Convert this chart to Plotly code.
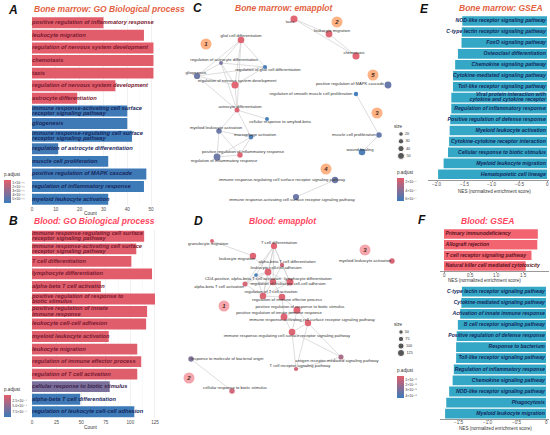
import plotly.graph_objects as go

W, H = 550, 435

# ======================= DATA =======================
# ---- A: Bone marrow, GO Biological process ----
a_terms = [
    "positive regulation of inflammatory response",
    "leukocyte migration",
    "regulation of nervous system development",
    "chemotaxis",
    "taxis",
    "regulation of nervous system development",
    "astrocyte differentiation",
    "immune response-activating cell surface<br>receptor signaling pathway",
    "gliogenesis",
    "immune response-regulating cell surface<br>receptor signaling pathway",
    "regulation of astrocyte differentiation",
    "muscle cell proliferation",
    "positive regulation of MAPK cascade",
    "regulation of inflammatory response",
    "myeloid leukocyte activation",
]
a_count = [30, 47, 51, 51, 51, 35, 19, 40, 40, 42, 11, 32, 48, 47, 32]
a_padj = [2.6e-12, 2.8e-12, 2.5e-12, 2.7e-12, 2.7e-12, 3.0e-12, 3.2e-12,
          5.9e-11, 5.9e-11, 5.95e-11, 5.8e-11, 6.0e-11, 5.9e-11, 5.95e-11, 6.0e-11]
a_padj_lim = [2.4e-12, 6.06e-11]
a_padj_ticks = [1e-11, 2e-11, 3e-11, 4e-11, 5e-11]
a_padj_ticktext = ["1×10⁻¹¹", "2×10⁻¹¹", "3×10⁻¹¹", "4×10⁻¹¹", "5×10⁻¹¹"]
a_count_ticks = [0, 10, 20, 30, 40, 50]

# ---- B: Blood, GO Biological process ----
b_terms = [
    "immune response-regulating cell surface<br>receptor signaling pathway",
    "immune response-activating cell surface<br>receptor signaling pathway",
    "T cell differentiation",
    "lymphocyte differentiation",
    "alpha-beta T cell activation",
    "positive regulation of response to<br>biotic stimulus",
    "positive regulation of innate<br>immune response",
    "leukocyte cell-cell adhesion",
    "myeloid leukocyte activation",
    "leukocyte migration",
    "regulation of immune effector process",
    "regulation of T cell activation",
    "cellular response to biotic stimulus",
    "alpha-beta T cell differentiation",
    "regulation of leukocyte cell-cell adhesion",
]
b_count = [114, 106, 101, 122, 70, 125, 117, 116, 78, 107, 111, 107, 79, 49, 104]
b_padj = [0.3e-4, 0.35e-4, 0.3e-4, 0.25e-4, 0.4e-4, 0.3e-4, 0.35e-4, 0.35e-4,
          0.45e-4, 0.4e-4, 0.4e-4, 0.45e-4, 6.0e-4, 9.3e-4, 9.5e-4]
b_padj_lim = [0.2e-4, 9.6e-4]
b_padj_ticks = [2.5e-4, 5.0e-4, 7.5e-4]
b_padj_ticktext = ["2.5×10⁻⁴", "5.0×10⁻⁴", "7.5×10⁻⁴"]
b_count_ticks = [0, 25, 50, 75, 100, 125]

# ---- E: Bone marrow GSEA ----
e_terms = [
    "NOD-like receptor signaling pathway",
    "C-type lectin receptor signaling pathway",
    "FoxO signaling pathway",
    "Osteoclast differentiation",
    "Chemokine signaling pathway",
    "Cytokine-mediated signaling pathway",
    "Toll-like receptor signaling pathway",
    "Viral protein interaction with<br>cytokine and cytokine receptor",
    "Regulation of inflammatory response",
    "Positive regulation of defense response",
    "Myeloid leukocyte activation",
    "Cytokine-cytokine receptor interaction",
    "Cellular response to biotic stimulus",
    "Myeloid leukocyte migration",
    "Hematopoietic cell lineage",
]
e_nes = [-1.54, -1.55, -1.555, -1.62, -1.67, -1.71, -1.71, -1.74, -1.74,
         -1.76, -1.77, -1.78, -1.80, -1.88, -1.98]
e_ticks = [-2.0, -1.5, -1.0, -0.5, 0]
e_ticktext = ["−2.0", "−1.5", "−1.0", "−0.5", "0"]

# ---- F: Blood GSEA ----
f_up_terms = [
    "Primary immunodeficiency",
    "Allograft rejection",
    "T cell receptor signaling pathway",
    "Natural killer cell mediated cytotoxicity",
]
f_up_nes = [1.78, 1.77, 1.66, 1.55]
f_up_ticks = [0, 0.5, 1.0, 1.5]
f_up_ticktext = ["0", "0.5", "1.0", "1.5"]
f_dn_terms = [
    "C-type lectin receptor signaling pathway",
    "Cytokine-mediated signaling pathway",
    "Activation of innate immune response",
    "B cell receptor signaling pathway",
    "Positive regulation of defense response",
    "Response to bacterium",
    "Toll-like receptor signaling pathway",
    "Regulation of inflammatory response",
    "Chemokine signaling pathway",
    "NOD-like receptor signaling pathway",
    "Phagocytosis",
    "Myeloid leukocyte migration",
]
f_dn_nes = [-1.45, -1.46, -1.48, -1.52, -1.54, -1.55, -1.55, -1.59, -1.61,
            -1.67, -1.72, -1.74]
f_dn_ticks = [-1.5, -1.0, -0.5, 0]
f_dn_ticktext = ["−1.5", "−1.0", "−0.5", "0"]

# ---- C: Bone marrow emapplot (network) ----
c_terms = [
    "glial cell differentiation",
    "regulation of astrocyte differentiation",
    "regulation of glial cell differentiation",
    "gliogenesis",
    "regulation of nervous system development",
    "astrocyte differentiation",
    "cellular response to amyloid-beta",
    "myeloid leukocyte activation",
    "macrophage activation",
    "positive regulation of inflammatory response",
    "regulation of inflammatory response",
    "immune response-regulating cell surface receptor signaling pathway",
    "immune response-activating cell surface receptor signaling pathway",
    "taxis",
    "leukocyte migration",
    "chemotaxis",
    "positive regulation of MAPK cascade",
    "regulation of smooth muscle cell proliferation",
    "muscle cell proliferation",
    "wound healing",
]
c_count = [45, 11, 15, 40, 51, 25, 12, 32, 22, 30, 47, 42, 40, 51, 47, 51, 48, 18, 32, 45]
c_padj = [1.2e-7, 4.6e-7, 6.3e-7, 5.0e-7, 1.1e-7, 1.3e-7, 6.4e-7, 5.0e-7, 6.2e-7, 1.2e-7,
          5.0e-7, 5.0e-7, 5.1e-7, 1.1e-7, 1.2e-7, 1.1e-7, 5.2e-7, 6.4e-7, 5.3e-7, 6.1e-7]
c_padj_lim = [1.0e-7, 6.5e-7]
c_padj_ticks = [2e-7, 4e-7, 6e-7]
c_padj_ticktext = ["2×10⁻⁷", "4×10⁻⁷", "6×10⁻⁷"]
c_edges = [(0, 1), (0, 2), (0, 3), (0, 4), (0, 5), (1, 2), (1, 3), (1, 4), (1, 5),
           (2, 3), (2, 4), (3, 4), (3, 5), (4, 5), (5, 6), (5, 7), (5, 8),
           (7, 8), (7, 9), (7, 10), (8, 9), (8, 10), (9, 10),
           (13, 14), (13, 15), (14, 15), (17, 18), (18, 19), (11, 12)]
c_size_breaks = [20, 30, 40, 50]
c_clusters = ["1", "2", "5", "3", "4"]
# graph layout coordinates (panel units)
c_lay_x = [81, 61, 105, 37, 75, 77, 107, 59, 91, 80, 57, 175, 136, 134, 169, 196, 228, 196, 219, 202]
c_lay_y = [25, 48, 52, 61, 70, 95, 104, 116, 122, 140, 142, 165, 182, 4, 19, 41, 70, 79, 120, 137]
c_lab_dx = [0, 3, 3, -1, 2, 3, 13, -3, 4, 3, 7, -53, -4, -4, 3, -2, -38, -45, -25, -2]
c_lab_dy = [-4, -3, 3, -3, -4, -3, 3, -3, -2, -3, 4, 0, 3, 3, -3, -3, -1, 0, 0, -2]
c_cl_x = [46, 177, 213, 217, 166]
c_cl_y = [29, 7, 60, 98, 154]

# ---- D: Blood emapplot (network) ----
d_terms = [
    "granulocyte migration",
    "leukocyte migration",
    "T cell differentiation",
    "alpha-beta T cell differentiation",
    "leukocyte cell-cell adhesion",
    "CD4-positive, alpha-beta T cell activation",
    "lymphocyte differentiation",
    "regulation of leukocyte cell-cell adhesion",
    "alpha-beta T cell activation",
    "regulation of T cell activation",
    "regulation of immune effector process",
    "positive regulation of response to biotic stimulus",
    "positive regulation of innate immune response",
    "immune response-activating cell surface receptor signaling pathway",
    "immune response-regulating cell surface receptor signaling pathway",
    "antigen receptor-mediated signaling pathway",
    "T cell receptor signaling pathway",
    "myeloid leukocyte activation",
    "response to molecule of bacterial origin",
    "cellular response to biotic stimulus",
]
d_count = [35, 107, 101, 49, 116, 30, 122, 104, 70, 107, 111, 125, 117, 106, 114, 70, 45, 78, 78, 79]
d_padj = [0.6e-8, 0.5e-8, 0.4e-8, 0.9e-8, 0.5e-8, 4.4e-8, 0.4e-8, 0.6e-8, 0.7e-8, 0.5e-8,
          0.5e-8, 0.45e-8, 0.5e-8, 0.5e-8, 0.5e-8, 1.8e-8, 0.8e-8, 0.6e-8, 2.9e-8, 0.9e-8]
d_padj_lim = [0.35e-8, 4.52e-8]
d_padj_ticks = [1e-8, 2e-8, 3e-8, 4e-8]
d_padj_ticktext = ["1×10⁻⁸", "2×10⁻⁸", "3×10⁻⁸", "4×10⁻⁸"]
d_edges = [(2, 3), (2, 4), (2, 6), (2, 7), (2, 9), (2, 8), (2, 5), (3, 4), (3, 6), (3, 7),
           (4, 5), (4, 6), (4, 7), (4, 8), (4, 9), (4, 1), (5, 7), (5, 8), (5, 9),
           (6, 7), (6, 9), (7, 8), (7, 9), (7, 10), (8, 9), (9, 10), (10, 11), (10, 12),
           (11, 12), (11, 13), (12, 13), (12, 14), (13, 14), (11, 14), (13, 15), (14, 15),
           (13, 16), (14, 16), (15, 16), (1, 0), (18, 19)]
d_size_breaks = [50, 75, 100, 125]
d_clusters = ["1", "2", "3"]
d_lay_x = [52, 93, 114, 122, 108, 96, 130, 113, 85, 103, 122, 137, 124, 148, 132, 181, 136, 232, 31, 72]
d_lay_y = [13, 28, 18, 37, 44, 47, 54, 54, 56, 68, 69, 82, 89, 95, 104, 129, 141, 33, 131, 163]
d_lab_dx = [-4, -16, 5, 5, 8, -13, 18, 15, -26, 8, 5, 3, -5, 4, -5, -4, 4, -27, 36, 3]
d_lab_dy = [3, 3, -3, -3, -4, 4, -3, 2, 3, -4, 3, -3, -4, -3, 4, 4, -3, 0, 0, -3]
d_cl_x = [64, 29, 205]
d_cl_y = [78, 150, 22]

# ======================= STYLE =======================
RED, BLUE = "#E35D6A", "#3A7BB9"
DARK_RED, DARK_BLUE = "#7A1A30", "#14285E"
TEAL = "#33A7C5"
PINK = "#F2646F"
TITLE_BM, TITLE_BL = "#E2623F", "#FF4560"
LBL_FONT = "Liberation Sans, Arial, sans-serif"
TXT_FONT = "Liberation Sans, DejaVu Sans, Arial, sans-serif"
PSCALE = [[0, BLUE], [1, RED]]   # applied to -p.adjust so low p is red (top)


def xd(p0, p1):
    return [p0 / W, p1 / W]


def yd(p0, p1):
    return [1 - p1 / H, 1 - p0 / H]


def hex2rgb(h):
    h = h.lstrip("#")
    return [int(h[i:i + 2], 16) for i in (0, 2, 4)]


def lerp(c0, c1, t):
    a, b = hex2rgb(c0), hex2rgb(c1)
    t = max(0.0, min(1.0, t))
    return "rgb(%d,%d,%d)" % tuple(round(a[i] + (b[i] - a[i]) * t) for i in range(3))


def norm(p, lim):
    return (p - lim[0]) / (lim[1] - lim[0])


def cbar(px_x, py_top, py_bot, ticks, ticktext):
    return dict(x=px_x / W, xanchor="left", y=1 - (py_top + py_bot) / 2 / H, yanchor="middle",
                len=py_bot - py_top, lenmode="pixels", thickness=7, thicknessmode="pixels",
                xpad=0, ypad=0, outlinewidth=0, ticks="",
                tickvals=[-v for v in ticks], ticktext=ticktext,
                tickfont=dict(size=3.6, color="#333", family=TXT_FONT),
                title=dict(text="p.adjust", side="top", font=dict(size=4.6, color="#333", family=TXT_FONT)))


def text_lines(terms, x0, gap):
    xs, ys, ts, idx = [], [], [], []
    for i, t in enumerate(terms):
        lines = t.split("<br>")
        n = len(lines)
        for j, ln in enumerate(lines):
            xs.append(x0)
            ys.append(i + (j - (n - 1) / 2) * gap)
            ts.append(ln)
            idx.append(i)
    return xs, ys, ts, idx


fig = go.Figure()


# ---------- bar panels A & B ----------
def go_bar_panel(terms, counts, padj, lim, ticks, ticktext, ax, lbl_size, gap, cb_px):
    xa, ya = "x" + ax, "y" + ax
    fig.add_trace(go.Bar(
        x=counts, y=list(range(len(terms))), orientation="h", width=0.87,
        marker=dict(color=[-p for p in padj], colorscale=PSCALE, cmin=-lim[1], cmax=-lim[0],
                    line=dict(width=0), showscale=True,
                    colorbar=cbar(4, cb_px[0], cb_px[1], ticks, ticktext)),
        xaxis=xa, yaxis=ya, hoverinfo="skip"))
    xs, ys, ts, idx = text_lines(terms, 0, gap)
    cols = [lerp(DARK_RED, DARK_BLUE, norm(padj[i], lim)) for i in idx]
    fig.add_trace(go.Scatter(
        x=xs, y=ys, text=ts, mode="text", textposition="middle right",
        textfont=dict(family=LBL_FONT, size=lbl_size, color=cols, weight="bold", style="italic"),
        cliponaxis=False, hoverinfo="skip", xaxis=xa, yaxis=ya))


go_bar_panel(a_terms, a_count, a_padj, a_padj_lim, a_padj_ticks, a_padj_ticktext, "1", 5.7, 0.42, (170, 203))
go_bar_panel(b_terms, b_count, b_padj, b_padj_lim, b_padj_ticks, b_padj_ticktext, "2", 5.7, 0.42, (385, 417))


# ---------- GSEA panels ----------
def gsea_panel(terms, nes, color, ax, side, lbl_size, gap, txtcol):
    xa, ya = "x" + ax, "y" + ax
    fig.add_trace(go.Bar(x=nes, y=list(range(len(terms))), orientation="h", width=0.88,
                         marker=dict(color=color, line=dict(width=0)),
                         xaxis=xa, yaxis=ya, hoverinfo="skip"))
    x0 = -0.02 if side == "left" else 0.03
    xs, ys, ts, idx = text_lines(terms, x0, gap)
    fig.add_trace(go.Scatter(
        x=xs, y=ys, text=ts, mode="text",
        textposition="middle left" if side == "left" else "middle right",
        textfont=dict(family=LBL_FONT, size=lbl_size, color=txtcol, weight="bold", style="italic"),
        cliponaxis=False, hoverinfo="skip", xaxis=xa, yaxis=ya))


gsea_panel(e_terms, e_nes, TEAL, "5", "left", 5.2, 0.46, DARK_BLUE)
gsea_panel(f_up_terms, f_up_nes, PINK, "6", "right", 5.1, 0.46, "#5A1222")
gsea_panel(f_dn_terms, f_dn_nes, TEAL, "7", "left", 5.1, 0.46, DARK_BLUE)


# ---------- network panels C & D ----------
def network_panel(terms, count, padj, lim, ticks, ticktext, edges, lx, ly, ldx, ldy,
                  clusters, clx, cly, clcol, breaks, size_fn, ax, cb_px, leg_y0, leg_step):
    xa, ya = "x" + ax, "y" + ax
    ex, ey = [], []
    for a, b in edges:
        ex += [lx[a], lx[b], None]
        ey += [ly[a], ly[b], None]
    fig.add_trace(go.Scatter(x=ex, y=ey, mode="lines", line=dict(color="#CFCFCF", width=0.7),
                             hoverinfo="skip", xaxis=xa, yaxis=ya))
    fig.add_trace(go.Scatter(
        x=lx, y=ly, mode="markers",
        marker=dict(size=[size_fn(c) for c in count], color=[-p for p in padj],
                    colorscale=PSCALE, cmin=-lim[1], cmax=-lim[0], line=dict(width=0),
                    opacity=0.95, showscale=True,
                    colorbar=cbar(397, cb_px[0], cb_px[1], ticks, ticktext)),
        hoverinfo="skip", xaxis=xa, yaxis=ya))
    fig.add_trace(go.Scatter(
        x=[x + d for x, d in zip(lx, ldx)], y=[y + d for y, d in zip(ly, ldy)],
        text=terms, mode="text", textposition="middle center",
        textfont=dict(family=TXT_FONT, size=4.2, color="#333"),
        cliponaxis=False, hoverinfo="skip", xaxis=xa, yaxis=ya))
    fig.add_trace(go.Scatter(
        x=clx, y=cly, text=clusters, mode="markers+text", textposition="middle center",
        marker=dict(size=11, color=clcol, line=dict(width=0)),
        textfont=dict(family=TXT_FONT, size=6, color="#4A2A1A", weight="bold", style="italic"),
        cliponaxis=False, hoverinfo="skip", xaxis=xa, yaxis=ya))
    # size legend
    fig.add_trace(go.Scatter(
        x=[241] * len(breaks), y=[leg_y0 + i * leg_step for i in range(len(breaks))],
        mode="markers+text", text=[str(b) for b in breaks], textposition="middle right",
        marker=dict(size=[size_fn(b) for b in breaks], color="#111"),
        textfont=dict(family=TXT_FONT, size=3.8, color="#333"),
        cliponaxis=False, hoverinfo="skip", xaxis=xa, yaxis=ya))
    fig.add_trace(go.Scatter(
        x=[238], y=[leg_y0 - 7], text=["size"], mode="text", textposition="middle center",
        textfont=dict(family=TXT_FONT, size=4.6, color="#333"),
        cliponaxis=False, hoverinfo="skip", xaxis=xa, yaxis=ya))


network_panel(c_terms, c_count, c_padj, c_padj_lim, c_padj_ticks, c_padj_ticktext, c_edges,
              c_lay_x, c_lay_y, c_lab_dx, c_lab_dy, c_clusters, c_cl_x, c_cl_y, "#FDB385",
              c_size_breaks, lambda c: 3.0 + 0.08 * c, "3", (168, 201), 119, 7.3)
network_panel(d_terms, d_count, d_padj, d_padj_lim, d_padj_ticks, d_padj_ticktext, d_edges,
              d_lay_x, d_lay_y, d_lab_dx, d_lab_dy, d_clusters, d_cl_x, d_cl_y, "#F7A6AD",
              d_size_breaks, lambda c: 2.6 + 0.036 * c, "4", (366, 398), 104, 7.0)

# ======================= LAYOUT =======================
tickf = dict(size=4.6, color="#4D4D4D", family=TXT_FONT)
bar_x = dict(showgrid=True, gridcolor="#EBEBEB", gridwidth=0.6, zeroline=False, ticks="",
             tickfont=tickf, showline=False, minor=dict(showgrid=True, gridcolor="#F5F5F5", gridwidth=0.5))
gsea_x = dict(showgrid=False, zeroline=False, showline=True, linecolor="#333", linewidth=0.5,
              ticks="outside", ticklen=1.5, tickwidth=0.5, tickcolor="#333", showticklabels=False)
hidden = dict(visible=False, showgrid=False, zeroline=False)

fig.update_layout(
    width=W, height=H, margin=dict(l=0, r=0, t=0, b=0),
    paper_bgcolor="white", plot_bgcolor="white", showlegend=False,
    xaxis=dict(domain=xd(29, 158), range=[-1.26, 52.9], tickvals=a_count_ticks,
               minor_dtick=5, anchor="y", **bar_x),
    yaxis=dict(domain=yd(16, 205), range=[14.46, -0.531], anchor="x", **hidden),
    xaxis2=dict(domain=xd(29, 160), range=[-3.05, 130.1], tickvals=b_count_ticks,
                minor_dtick=12.5, anchor="y2", **bar_x),
    yaxis2=dict(domain=yd(230, 418), range=[14.5, -0.503], anchor="x2", **hidden),
    xaxis3=dict(domain=xd(160, 420), range=[0, 260], anchor="y3", **hidden),
    yaxis3=dict(domain=yd(15, 210), range=[195, 0], anchor="x3", **hidden),
    xaxis4=dict(domain=xd(160, 420), range=[0, 260], anchor="y4", **hidden),
    yaxis4=dict(domain=yd(228, 430), range=[202, 0], anchor="x4", **hidden),
    xaxis5=dict(domain=xd(428, 549), range=[-2.164, 0.036], tickvals=e_ticks,
                anchor="y5", **gsea_x),
    yaxis5=dict(domain=yd(15.5, 180), range=[14.52, -0.502], anchor="x5", **hidden),
    xaxis6=dict(domain=xd(440, 549), range=[-0.0759, 1.992], tickvals=f_up_ticks,
                anchor="y6", **gsea_x),
    yaxis6=dict(domain=yd(228.7, 271.2), range=[3.48, -0.497], anchor="x6", **hidden),
    xaxis7=dict(domain=xd(440, 549), range=[-1.828, 0.0517], tickvals=f_dn_ticks,
                anchor="y7", **gsea_x),
    yaxis7=dict(domain=yd(286, 419), range=[11.48, -0.514], anchor="x7", **hidden),
)


def ann(text, px, py, size, color, bold=False, italic=False, xanchor="center", family=TXT_FONT):
    fig.add_annotation(text=text, x=px / W, y=1 - py / H, xref="paper", yref="paper",
                       xanchor=xanchor, yanchor="middle", showarrow=False,
                       font=dict(size=size, color=color, family=family,
                                 weight="bold" if bold else "normal",
                                 style="italic" if italic else "normal"))


def tick_labels(ax, vals, texts, py):
    for v, t in zip(vals, texts):
        fig.add_annotation(text=t, x=v, xref="x" + ax, y=1 - py / H, yref="paper",
                           xanchor="center", yanchor="middle", showarrow=False, font=tickf)


tick_labels("5", e_ticks, e_ticktext, 184.5)
tick_labels("6", f_up_ticks, f_up_ticktext, 275)
tick_labels("7", f_dn_ticks, f_dn_ticktext, 422.5)

# panel letters
for letter, px, py in [("A", 13, 10), ("B", 13, 221), ("C", 197, 8), ("D", 198, 221),
                       ("E", 424, 9), ("F", 422, 220)]:
    ann(letter, px, py, 12, "#111", bold=True, italic=True)

# panel titles
ann("Bone marrow: GO Biological process", 32, 9, 8.5, TITLE_BM, True, True, "left")
ann("Blood: GO Biological process", 32, 221, 8.5, TITLE_BL, True, True, "left")
ann("Bone marrow: emapplot", 284, 8, 8.5, TITLE_BM, True, True)
ann("Blood: emapplot", 283, 221, 8.5, TITLE_BL, True, True)
ann("Bone marrow: GSEA", 501, 8, 8.5, TITLE_BM, True, True)
ann("Blood: GSEA", 487, 221, 8.5, TITLE_BL, True, True)

# axis titles
ann("Count", 90, 213, 4.8, "#333")
ann("Count", 90, 427, 4.8, "#333")
ann("NES (normalized enrichment score)", 494, 191, 4.6, "#333")
ann("NES (normalized enrichment score)", 484, 280.5, 4.6, "#333")
ann("NES (normalized enrichment score)", 495, 428.5, 4.6, "#333")

fig.write_html("out.html", config={"displayModeBar": False, "staticPlot": True},
               post_script="document.body.style.margin='0px';document.body.style.overflow='hidden';")
